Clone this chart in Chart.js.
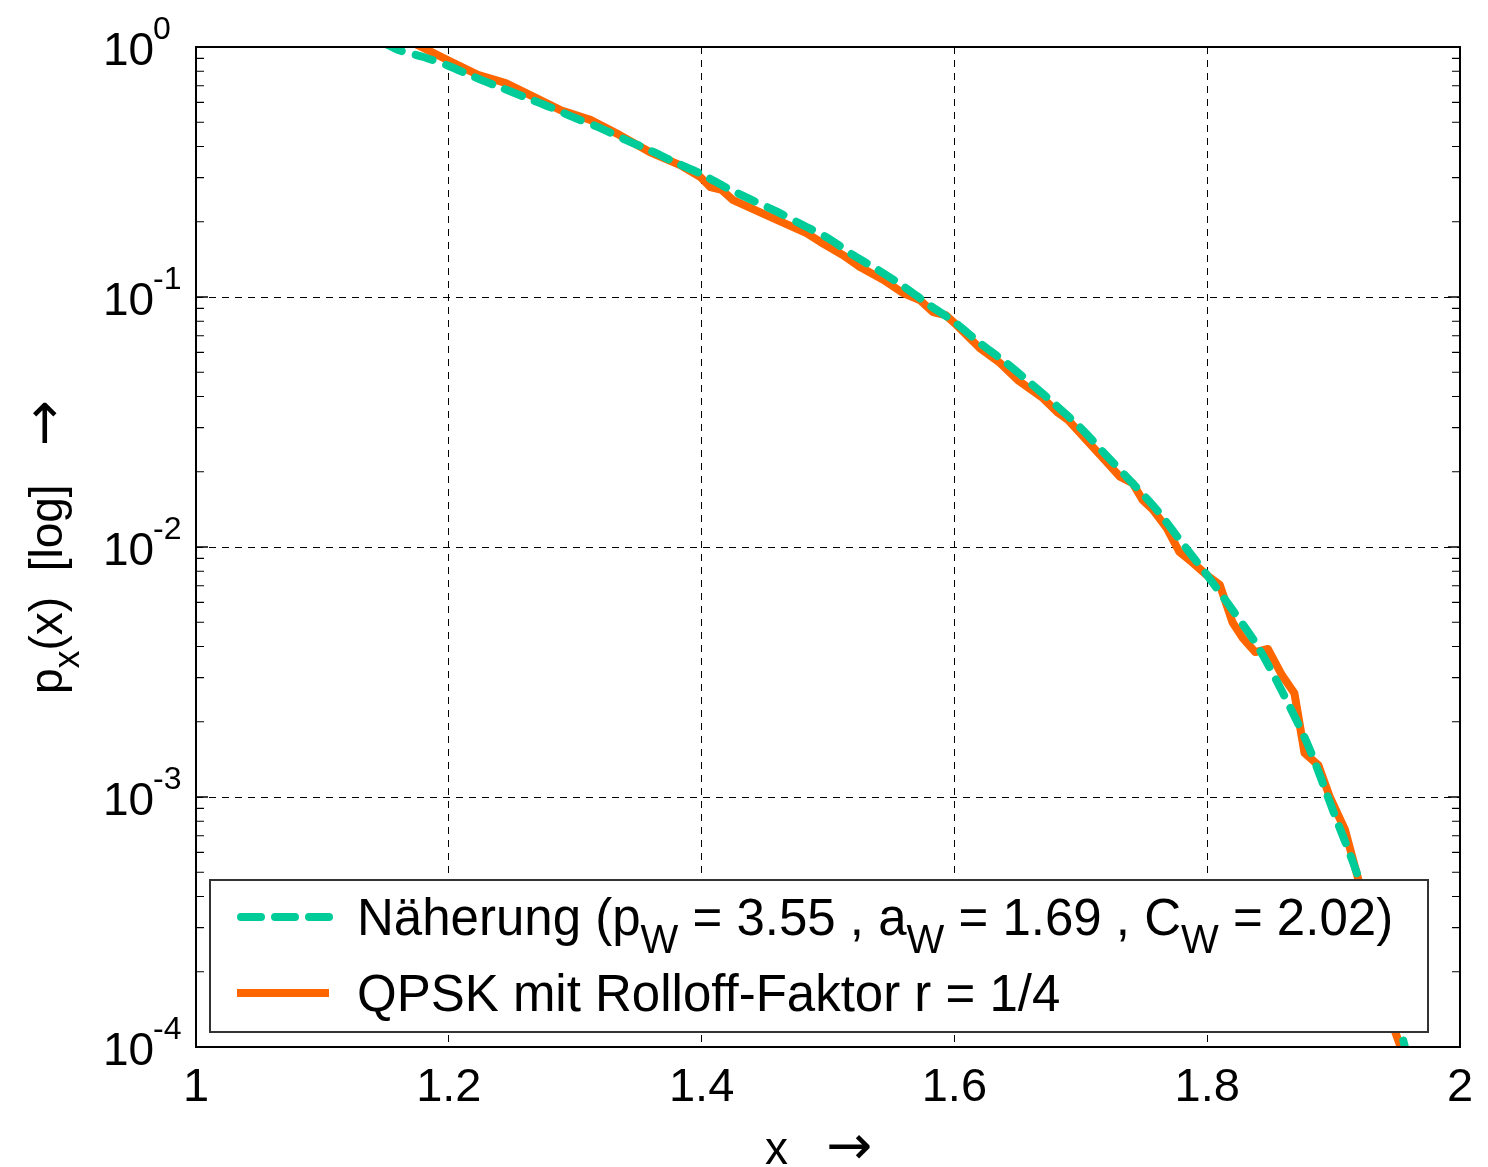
<!DOCTYPE html>
<html>
<head>
<meta charset="utf-8">
<script src="https://cdn.jsdelivr.net/npm/chart.js@4"></script>
<style>
  html, body { margin: 0; padding: 0; background: #fff; }
  #wrap { width: 1488px; height: 1167px; }
</style>
</head>
<body>
<div id="wrap"><canvas id="chart"></canvas></div>
<script>
// approximation curve (dashed green)
const approxX = [1.15, 1.16, 1.18, 1.20, 1.22, 1.24, 1.26, 1.28, 1.30, 1.32, 1.34, 1.36, 1.38, 1.40,
  1.42, 1.44, 1.46, 1.48, 1.50, 1.52, 1.54, 1.56, 1.58, 1.60, 1.62, 1.64, 1.66, 1.68, 1.70,
  1.72, 1.74, 1.76, 1.78, 1.80, 1.82, 1.84, 1.86, 1.88, 1.90, 1.92, 1.94, 1.96];
const approxP = [1.03, 0.973, 0.912, 0.84, 0.759, 0.692, 0.631, 0.575, 0.52, 0.474, 0.425, 0.384, 0.344, 0.31,
  0.273, 0.244, 0.219, 0.194, 0.172, 0.147, 0.128, 0.11, 0.093, 0.0794, 0.0655, 0.055, 0.0453, 0.037, 0.0299,
  0.0233, 0.0182, 0.0141, 0.0104, 0.0077, 0.0056, 0.004, 0.0026, 0.0016, 0.00087, 0.00047, 0.00021, 0.000085];

// simulated QPSK (solid orange)
const qpskX = [1.17, 1.199, 1.223, 1.245, 1.264, 1.288, 1.312, 1.335, 1.359, 1.383, 1.399, 1.407, 1.416, 1.425,
  1.460, 1.483, 1.494, 1.512, 1.525, 1.544, 1.559, 1.573, 1.583, 1.593, 1.600, 1.620, 1.636, 1.650,
  1.670, 1.682, 1.690, 1.721, 1.731, 1.741, 1.749, 1.757, 1.768, 1.778, 1.788, 1.800, 1.810, 1.820,
  1.828, 1.838, 1.848, 1.859, 1.869, 1.877, 1.888, 1.897, 1.909, 1.919, 1.93, 1.94, 1.949, 1.954];
const qpskP = [1.05, 0.887, 0.773, 0.718, 0.643, 0.56, 0.511, 0.445, 0.38, 0.337, 0.302, 0.275, 0.268, 0.244,
  0.203, 0.18, 0.166, 0.147, 0.132, 0.117, 0.104, 0.097, 0.087, 0.0847, 0.0787, 0.0625, 0.0545, 0.0466,
  0.0394, 0.0344, 0.0322, 0.0217, 0.0191, 0.018, 0.0154, 0.0141, 0.0119, 0.00955, 0.0087, 0.0077, 0.00705, 0.0050,
  0.00433, 0.0038, 0.00391, 0.00308, 0.0026, 0.0015, 0.00134, 0.001, 0.00074, 0.00048, 0.00029, 0.00018, 0.000114, 0.000097];

const xTicks = [1, 1.2, 1.4, 1.6, 1.8, 2];
const yExponents = [0, -1, -2, -3, -4];

const legendRows = [
  [["Näherung (p"], ["W", "sub"], [" = 3.55 , a"], ["W", "sub"], [" = 1.69 , C"], ["W", "sub"], [" = 2.02)"]],
  [["QPSK mit Rolloff-Faktor r = 1/4"]]
];

const GREEN = "#00cc99";
const ORANGE = "#ff6600";
const FONT = "'Liberation Sans', Arial, sans-serif";
const ARROW_FONT = "'DejaVu Sans', sans-serif";

function fontFor(kind, size) {
  if (kind === "sub") return `${Math.round(size * 0.78)}px ${FONT}`;
  if (kind === "sup") return `${Math.round(size * 0.72)}px ${FONT}`;
  if (kind === "arrow") return `${Math.round(size * 1.2)}px ${ARROW_FONT}`;
  return `${size}px ${FONT}`;
}

function drawRich(ctx, parts, x, y, size) {
  let cx = x;
  parts.forEach(([txt, kind]) => {
    ctx.font = fontFor(kind, size);
    let dy = 0;
    if (kind === "sub") dy = size * 0.36;
    if (kind === "sup") dy = -size * 0.5;
    ctx.fillText(txt, cx, y + dy);
    cx += ctx.measureText(txt).width;
  });
  return cx - x;
}

function richWidth(ctx, parts, size) {
  let w = 0;
  parts.forEach(([txt, kind]) => {
    ctx.font = fontFor(kind, size);
    w += ctx.measureText(txt).width;
  });
  return w;
}

const decorPlugin = {
  id: "decor",
  afterDraw(chart) {
    const { ctx, chartArea: a, scales } = chart;
    const xs = scales.x, ys = scales.y;
    ctx.save();

    // minor ticks on the log axis, both sides
    ctx.strokeStyle = "#000";
    ctx.lineWidth = 1.2;
    for (let e = -4; e < 0; e++) {
      for (let m = 2; m <= 9; m++) {
        const py = ys.getPixelForValue(m * Math.pow(10, e));
        ctx.beginPath();
        ctx.moveTo(a.left, py); ctx.lineTo(a.left + 8, py);
        ctx.moveTo(a.right, py); ctx.lineTo(a.right - 8, py);
        ctx.stroke();
      }
    }
    // major ticks
    ctx.lineWidth = 1.5;
    yExponents.forEach(e => {
      const py = ys.getPixelForValue(Math.pow(10, e));
      ctx.beginPath();
      ctx.moveTo(a.left, py); ctx.lineTo(a.left + 12, py);
      ctx.moveTo(a.right, py); ctx.lineTo(a.right - 12, py);
      ctx.stroke();
    });

    // frame
    ctx.lineWidth = 2;
    ctx.strokeRect(a.left, a.top, a.right - a.left, a.bottom - a.top);

    // x tick labels
    ctx.fillStyle = "#000";
    ctx.textBaseline = "alphabetic";
    ctx.textAlign = "center";
    ctx.font = `47px ${FONT}`;
    xTicks.forEach(v => {
      ctx.fillText(String(v), xs.getPixelForValue(v), a.bottom + 54);
    });

    // y tick labels 10^n
    ctx.textAlign = "left";
    yExponents.forEach(e => {
      const py = ys.getPixelForValue(Math.pow(10, e));
      ctx.font = `46px ${FONT}`;
      ctx.fillText("10", 103, py + 18);
      ctx.font = `32px ${FONT}`;
      ctx.fillText(String(e), 153, py - 8);
    });

    // axis titles
    ctx.textAlign = "left";
    const xt = [["x   "], ["\u2192", "arrow"]];
    drawRich(ctx, xt, 765, 1164, 46);

    ctx.save();
    ctx.translate(62, (a.top + a.bottom) / 2);
    ctx.rotate(-Math.PI / 2);
    const yt = [["p"], ["x", "sub"], ["(x)  [log]   "], ["\u2192", "arrow"]];
    const yw = richWidth(ctx, yt, 46);
    drawRich(ctx, yt, -yw / 2, 0, 46);
    ctx.restore();

    // legend box drawn on top of the curves
    const lx = 210, ly = 880, lw = 1218, lh = 152;
    ctx.fillStyle = "#fff";
    ctx.fillRect(lx, ly, lw, lh);
    ctx.strokeStyle = "#333";
    ctx.lineWidth = 2;
    ctx.strokeRect(lx, ly, lw, lh);

    chart.data.datasets.forEach((ds, i) => {
      const rowY = ly + 37 + i * 76;
      ctx.save();
      ctx.strokeStyle = ds.borderColor;
      ctx.lineWidth = ds.borderWidth;
      ctx.lineCap = ds.borderDash ? "round" : "butt";
      ctx.setLineDash(ds.borderDash ? [20, 14] : []);
      ctx.beginPath();
      ctx.moveTo(ds.borderDash ? 241 : 237, rowY);
      ctx.lineTo(329, rowY);
      ctx.stroke();
      ctx.restore();
      ctx.fillStyle = "#000";
      ctx.textAlign = "left";
      drawRich(ctx, legendRows[i], 357, rowY + 18, 51);
    });

    ctx.restore();
  }
};

new Chart(document.getElementById("chart"), {
  type: "line",
  data: {
    datasets: [
      {
        label: "Näherung",
        data: approxX.map((x, i) => ({ x, y: approxP[i] })),
        borderColor: GREEN,
        borderWidth: 8,
        borderDash: [18, 14],
        borderCapStyle: "round",
        pointRadius: 0,
        tension: 0.3,
        fill: false
      },
      {
        label: "QPSK",
        data: qpskX.map((x, i) => ({ x, y: qpskP[i] })),
        borderColor: ORANGE,
        borderWidth: 8,
        borderJoinStyle: "round",
        pointRadius: 0,
        tension: 0,
        fill: false
      }
    ]
  },
  options: {
    responsive: true,
    maintainAspectRatio: false,
    animation: false,
    events: [],
    layout: { padding: { left: 196, top: 47, right: 28, bottom: 120 } },
    plugins: {
      legend: { display: false },
      tooltip: { enabled: false }
    },
    scales: {
      x: {
        type: "linear",
        min: 1,
        max: 2,
        afterBuildTicks: s => { s.ticks = xTicks.map(v => ({ value: v })); },
        ticks: { display: false },
        grid: { color: "#000", lineWidth: 1, drawTicks: false },
        border: { display: false, dash: [7, 6] }
      },
      y: {
        type: "logarithmic",
        min: 1e-4,
        max: 1,
        afterBuildTicks: s => { s.ticks = yExponents.map(e => ({ value: Math.pow(10, e) })); },
        ticks: { display: false },
        grid: { color: "#000", lineWidth: 1, drawTicks: false },
        border: { display: false, dash: [7, 6] }
      }
    }
  },
  plugins: [decorPlugin]
});
</script>
</body>
</html>
